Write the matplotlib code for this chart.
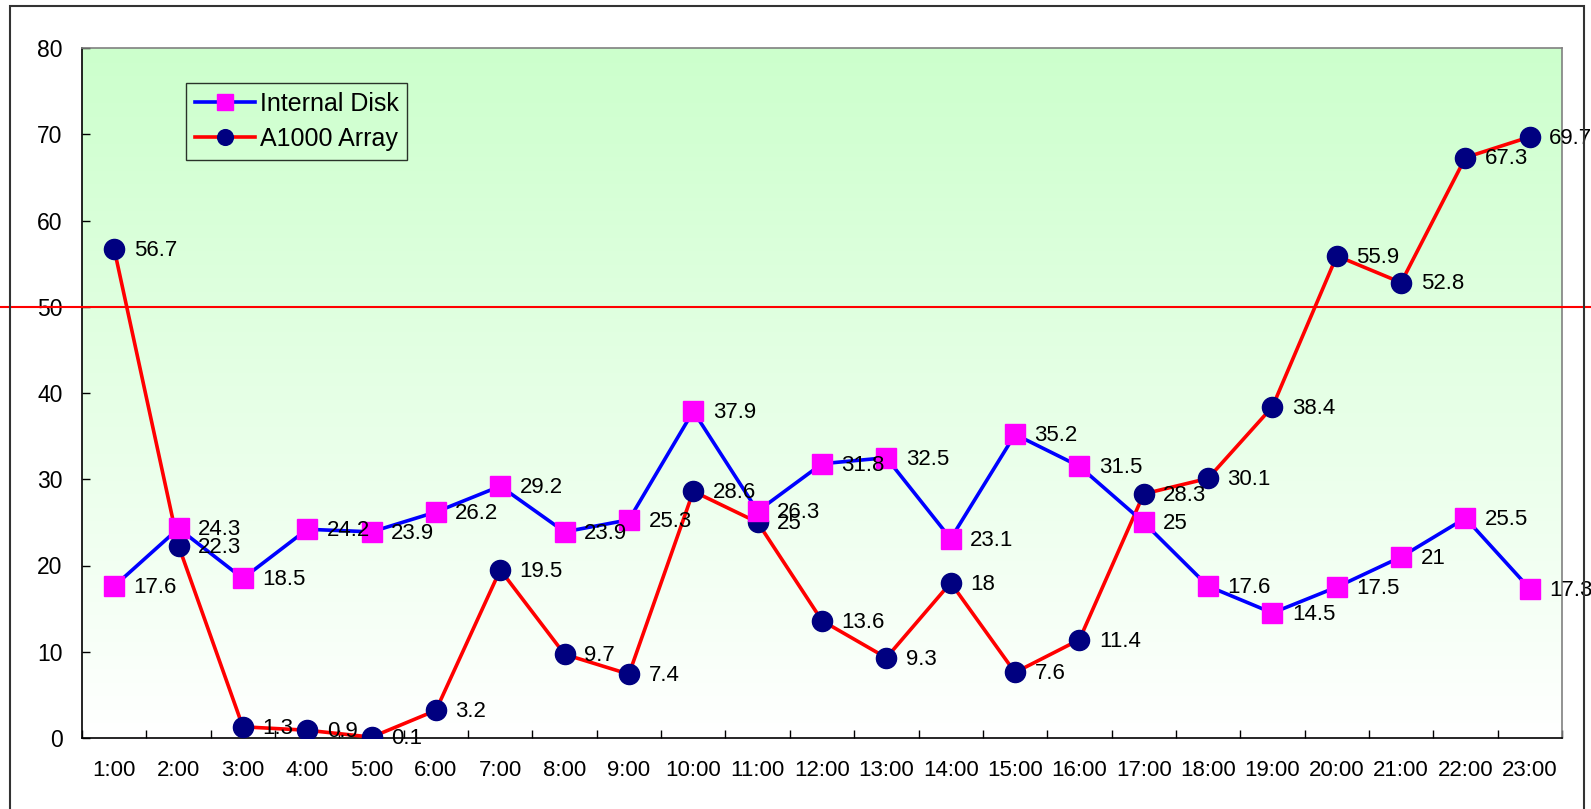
import numpy as np
import matplotlib
matplotlib.use('Agg')
import matplotlib.pyplot as plt
from matplotlib.patches import Rectangle

plt.rcParams['font.family'] = ['Liberation Sans', 'DejaVu Sans']

hours = ['%d:00' % h for h in range(1, 24)]
internal_disk = [17.6, 24.3, 18.5, 24.2, 23.9, 26.2, 29.2, 23.9, 25.3, 37.9, 26.3, 31.8,
                 32.5, 23.1, 35.2, 31.5, 25, 17.6, 14.5, 17.5, 21, 25.5, 17.3]
a1000_array = [56.7, 22.3, 1.3, 0.9, 0.1, 3.2, 19.5, 9.7, 7.4, 28.6, 25, 13.6,
               9.3, 18, 7.6, 11.4, 28.3, 30.1, 38.4, 55.9, 52.8, 67.3, 69.7]
threshold = 50

W, H = 1591, 809
fig = plt.figure(figsize=(W / 100, H / 100), dpi=100)
ax_l, ax_r, ax_t, ax_b = 82, 1562, 48, 738
ax = fig.add_axes([ax_l / W, 1 - ax_b / H, (ax_r - ax_l) / W, (ax_b - ax_t) / H])

x = np.arange(1, len(hours) + 1)

# green at the top fading to white at the bottom
grad = np.linspace(0, 1, 256).reshape(-1, 1)
top = np.array([204, 255, 204]) / 255.0
bot = np.array([255, 255, 255]) / 255.0
img = top[None, None, :] * (1 - grad[:, :, None]) + bot[None, None, :] * grad[:, :, None]
ax.imshow(img, extent=[0.5, len(hours) + 0.5, 0, 80], origin='upper',
          aspect='auto', zorder=0)
ax.set_xlim(0.5, len(hours) + 0.5)
ax.set_ylim(0, 80)

ax.plot(x, a1000_array, color='#ff0000', lw=2.6, marker='o', ms=14.5,
        mfc='#000080', mec='#000080', label='A1000 Array', zorder=3)
ax.plot(x, internal_disk, color='#0000ff', lw=2.6, marker='s', ms=14.5,
        mfc='#ff00ff', mec='#ff00ff', label='Internal Disk', zorder=3)

for xi, v in zip(x, internal_disk):
    ax.annotate('%g' % v, (xi, v), xytext=(14, -1), textcoords='offset points',
                ha='left', va='center', fontsize=16, zorder=6)
for xi, v in zip(x, a1000_array):
    ax.annotate('%g' % v, (xi, v), xytext=(14, -1), textcoords='offset points',
                ha='left', va='center', fontsize=16, zorder=6)

# threshold line running across the whole figure
ax.axhline(threshold, xmin=-ax_l / (ax_r - ax_l), xmax=(W - ax_l) / (ax_r - ax_l),
           color='#ff0000', lw=1.5, clip_on=False, zorder=5)

ax.set_yticks(range(0, 81, 10))
ax.set_xticks(x)
ax.set_xticklabels(hours)
ax.set_xticks(np.arange(0.5, len(hours) + 1, 1), minor=True)
ax.tick_params(axis='y', direction='in', length=6, width=1, labelsize=16.5, pad=14)
ax.tick_params(axis='x', which='major', length=0, labelsize=16, pad=16)
ax.tick_params(axis='x', which='minor', direction='in', length=6, width=1)
ax.spines['left'].set_color('black')
ax.spines['bottom'].set_color('black')
ax.spines['top'].set_color('#808080')
ax.spines['right'].set_color('#808080')
for s in ax.spines.values():
    s.set_linewidth(1.2)

handles, labels = ax.get_legend_handles_labels()
leg = ax.legend(handles[::-1], labels[::-1], loc='upper left',
                bbox_to_anchor=(186 / W, 1 - 83 / H),
                bbox_transform=fig.transFigure, fontsize=18, frameon=True,
                fancybox=False, edgecolor='black', facecolor='none',
                borderaxespad=0, borderpad=0.35, handlelength=2.4,
                handletextpad=0.2, labelspacing=0.45, markerscale=0.78)
leg.get_frame().set_linewidth(1.0)

# outer chart border
fig.patches.append(Rectangle((10 / W, -0.02), 1574 / W, 1 - 6 / H + 0.02,
                             transform=fig.transFigure, fill=False,
                             edgecolor='#333333', lw=1.5))

fig.savefig('out.png', dpi=100)
